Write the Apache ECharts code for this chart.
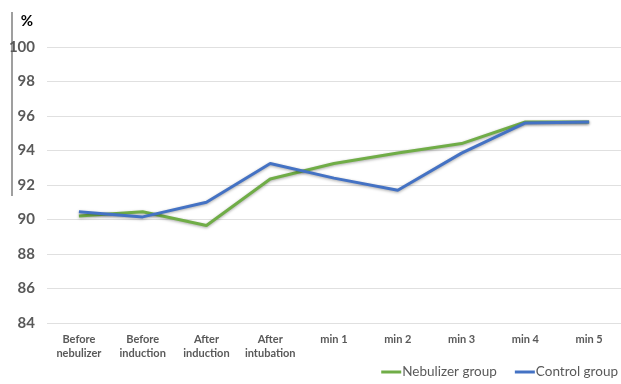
<!DOCTYPE html>
<html>
<head>
<meta charset="utf-8">
<script src="https://cdn.jsdelivr.net/npm/echarts@6/dist/echarts.min.js"></script>
<style>
  html, body { margin: 0; padding: 0; background: #fff; }
  #chart { width: 621px; height: 384px; }
</style>
</head>
<body>
<div id="chart"></div>
<script>
const categories = ['Before\nnebulizer', 'Before\ninduction', 'After\ninduction', 'After\nintubation',
  'min 1', 'min 2', 'min 3', 'min 4', 'min 5']
const nebulizerGroup = [90.2, 90.45, 89.65, 92.35, 93.25, 93.85, 94.4, 95.65, 95.65]
const controlGroup = [90.45, 90.15, 91.0, 93.25, 92.4, 91.7, 93.85, 95.6, 95.65]
const yTicks = { min: 84, max: 100, interval: 2 }

const chart = echarts.init(document.getElementById('chart'), null, { renderer: 'canvas' })

const lineStyle = (color) => ({
  width: 3,
  color: color,
  shadowColor: 'rgba(0,0,0,0.35)',
  shadowBlur: 3,
  shadowOffsetY: 1
})

chart.setOption({
  animation: false,
  textStyle: { fontFamily: 'Lato' },
  grid: { left: 47, right: 0, top: 47, bottom: 61 },
  legend: {
    right: -2,
    bottom: 0,
    itemWidth: 20,
    itemHeight: 3,
    itemGap: 18,
    icon: 'rect',
    textStyle: { color: '#595959', fontSize: 13.5, padding: [0, 0, 0, -4] },
    data: ['Nebulizer group', 'Control group']
  },
  xAxis: {
    type: 'category',
    data: categories,
    axisLine: { show: false },
    axisTick: { show: false },
    axisLabel: { interval: 0, color: '#595959', fontSize: 11, fontWeight: 'bold', margin: 9, lineHeight: 14 }
  },
  yAxis: {
    type: 'value',
    min: yTicks.min,
    max: yTicks.max,
    interval: yTicks.interval,
    name: '%',
    nameGap: 18,
    nameTextStyle: { color: '#000', fontSize: 15, fontWeight: 'bold', align: 'right', padding: [0, 14, 0, 0] },
    axisLine: { show: false },
    axisTick: { show: false },
    axisLabel: { color: '#595959', fontSize: 15, fontWeight: 'bold', margin: 12 },
    splitLine: { lineStyle: { color: '#e0e0e0', width: 1 } }
  },
  graphic: [{
    type: 'line',
    shape: { x1: 12, y1: 12, x2: 12, y2: 196 },
    style: { stroke: '#7f7f7f', lineWidth: 1.5 }
  }],
  series: [
    {
      name: 'Nebulizer group',
      type: 'line',
      data: nebulizerGroup,
      symbol: 'none',
      itemStyle: { color: '#70ad47' },
      lineStyle: lineStyle('#70ad47')
    },
    {
      name: 'Control group',
      type: 'line',
      data: controlGroup,
      symbol: 'none',
      itemStyle: { color: '#4472c4' },
      lineStyle: lineStyle('#4472c4')
    }
  ]
})
</script>
</body>
</html>
